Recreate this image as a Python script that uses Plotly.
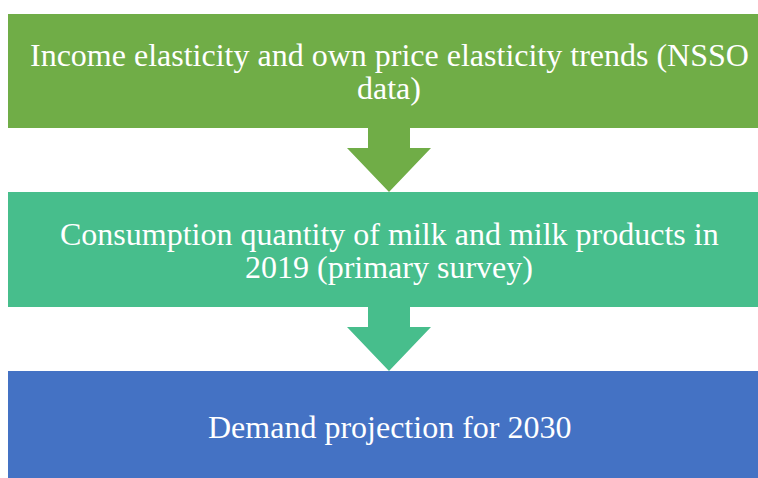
import plotly.graph_objects as go

# Text of each step (one entry per line) and fill colours
steps = [
    ["Income elasticity and own price elasticity trends (NSSO", "data)"],
    ["Consumption quantity of milk and milk products in", "2019 (primary survey)"],
    ["Demand projection for 2030"],
]
colors = ["#70AD47", "#47BE8C", "#4472C4"]

# Layout geometry in page pixels (758 x 478)
W, H = 758, 478
box_x0, box_x1 = 8, 760
box_y = [(14, 128), (192, 307), (371, 480)]
text_cy = [71.5, 250, 427]
line_gap = 33
font_size = 32
serif = "Liberation Serif, Times New Roman, serif"

shapes = []
annotations = []

for lines, col, (y0, y1), cy in zip(steps, colors, box_y, text_cy):
    shapes.append(dict(type="rect", x0=box_x0, x1=box_x1, y0=y0, y1=y1,
                       fillcolor=col, line=dict(width=0), layer="below"))
    n = len(lines)
    for k, txt in enumerate(lines):
        ty = cy + (k - (n - 1) / 2) * line_gap
        annotations.append(dict(x=389, y=ty, text=txt, showarrow=False,
                                xanchor="center", yanchor="middle",
                                font=dict(family=serif, size=font_size, color="white")))

# down arrows between boxes
for i in range(2):
    top = box_y[i][1]
    bottom = box_y[i + 1][0]
    neck = top + 20
    sx0, sx1 = 368, 410
    hx0, hx1 = 347, 431
    tip = (hx0 + hx1) / 2
    path = (f"M {sx0} {top} L {sx1} {top} L {sx1} {neck} L {hx1} {neck} "
            f"L {tip} {bottom} L {hx0} {neck} L {sx0} {neck} Z")
    shapes.append(dict(type="path", path=path, fillcolor=colors[i],
                       line=dict(width=0), layer="below"))

fig = go.Figure()
fig.update_layout(
    width=W, height=H,
    margin=dict(l=0, r=0, t=0, b=0),
    paper_bgcolor="white", plot_bgcolor="white",
    shapes=shapes, annotations=annotations,
    xaxis=dict(range=[0, W], visible=False, fixedrange=True),
    yaxis=dict(range=[H, 0], visible=False, fixedrange=True),
    showlegend=False,
)

# drop the default body margin so the figure fills the window
fig.write_html("out.html", config={"displayModeBar": False},
               post_script="document.body.style.margin='0';document.body.style.overflow='hidden';")
